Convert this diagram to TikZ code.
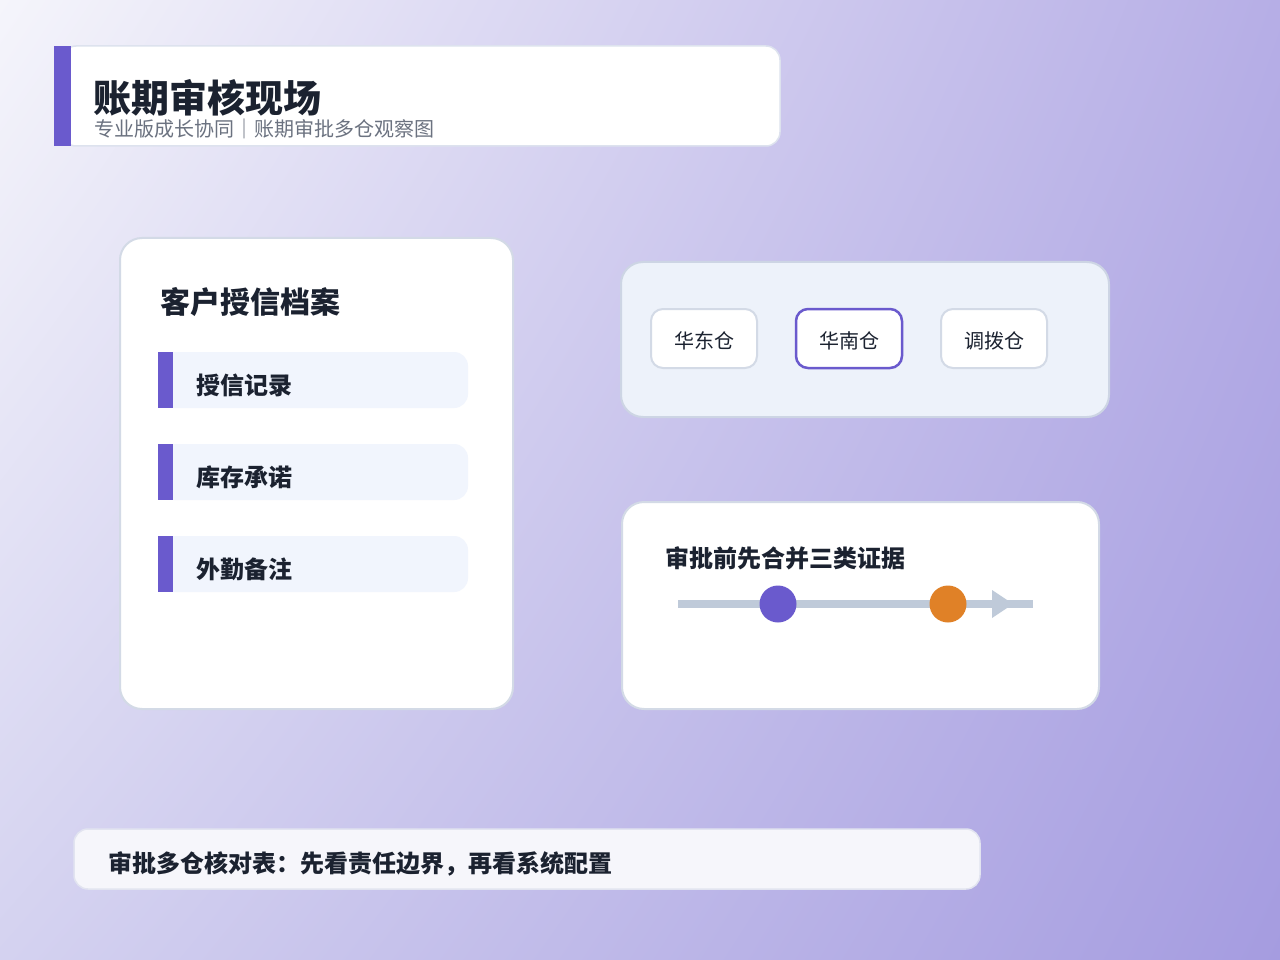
\documentclass[tikz,border=0pt]{standalone}
\usepackage{fontspec}
\setmainfont{Noto Sans CJK SC}
\usetikzlibrary{arrows.meta,shadings}
\definecolor{accent}{HTML}{6A5ACD}
\definecolor{orangedot}{HTML}{E08127}
\definecolor{ink}{HTML}{1B2230}
\definecolor{subgray}{HTML}{6B7280}
\definecolor{cardborder}{HTML}{D3DAE6}
\definecolor{itemfill}{HTML}{F1F5FD}
\definecolor{panelfill}{HTML}{EDF2FA}
\definecolor{panelborder}{HTML}{CDD5E4}
\definecolor{trackcol}{HTML}{BFCAD9}
\definecolor{headborder}{HTML}{DDE2EE}
\definecolor{footborder}{HTML}{E2E4F0}
\definecolor{footfill}{HTML}{F6F6FB}
\definecolor{bgUL}{HTML}{F5F5FB}
\definecolor{bgUR}{HTML}{B6AEE6}
\definecolor{bgLL}{HTML}{D4D2F0}
\definecolor{bgLR}{HTML}{A59CE0}
\tikzset{
  card/.style={draw=cardborder, line width=2pt, fill=white, rounded corners=22pt},
  pill/.style={draw=cardborder, line width=2pt, fill=white, rounded corners=12pt, minimum width=106pt, minimum height=59pt, font=\fontsize{20}{24}\selectfont, text=ink, inner sep=0pt, text depth=-1pt},
  itembox/.style={fill=itemfill, rounded corners=14pt},
  bar/.style={fill=accent},
  lbl/.style={anchor=west, inner sep=0pt, text=ink, font=\bfseries\fontsize{24}{28}\selectfont},
}
\begin{document}
\begin{tikzpicture}[x=1pt,y=-1pt]
% background
\shade[upper left=bgUL, upper right=bgUR, lower left=bgLL, lower right=bgLR] (0,0) rectangle (1280,960);
\useasboundingbox (0,0) rectangle (1280,960);

% header
\draw[draw=headborder, line width=1.5pt, fill=white, rounded corners=14pt] (62,46) rectangle (780,146);
\fill[accent] (54,46) rectangle (71,146);
\node[anchor=base west, inner sep=0pt, text=ink, font=\bfseries\fontsize{38}{42}\selectfont] (title) at (93,113) {账期审核现场};
\node[anchor=west, inner sep=0pt, text=subgray, font=\fontsize{20}{24}\selectfont] (subtitle) at (94,129) {专业版成长协同｜账期审批多仓观察图};

% left card
\draw[card] (120,238) rectangle (513,709);
\node[lbl, font=\bfseries\fontsize{30}{34}\selectfont] (lefttitle) at (160,302) {客户授信档案};
\foreach \y/\t/\n in {352/授信记录/ia, 444/库存承诺/ib, 536/外勤备注/ic}{
  \fill[itembox] (160,\y) rectangle (468,\y+56);
  \fill[bar] (158,\y) rectangle (173,\y+56);
  \node[lbl] (\n) at (196,\y+33) {\t};
}

% top right panel
\draw[draw=panelborder, line width=2pt, fill=panelfill, rounded corners=22pt] (621,262) rectangle (1109,417);
\node[pill] (east) at (704,338.5) {\raisebox{-3pt}{华东仓}};
\node[pill, draw=accent, line width=2.5pt] (south) at (849,338.5) {\raisebox{-3pt}{华南仓}};
\node[pill] (transfer) at (994,338.5) {\raisebox{-3pt}{调拨仓}};

% bottom right card
\draw[card] (622,502) rectangle (1099,709);
\node[lbl] (evtitle) at (665,558) {审批前先合并三类证据};
\coordinate (tstart) at (678,604);
\coordinate (tend) at (1033,604);
\draw[trackcol, line width=8pt] (tstart) -- (tend);
\fill[trackcol] (992,590) -- (1013,604) -- (992,618) -- cycle;
\node[circle, fill=accent, minimum size=37pt, inner sep=0pt] (d1) at (778,604) {};
\node[circle, fill=orangedot, minimum size=37pt, inner sep=0pt] (d2) at (948,604) {};

% bottom bar
\draw[draw=footborder, line width=1.5pt, fill=footfill, rounded corners=14pt] (74,829) rectangle (980,889);
\node[lbl] (footer) at (108,864) {审批多仓核对表：先看责任边界，再看系统配置};
\end{tikzpicture}
\end{document}
